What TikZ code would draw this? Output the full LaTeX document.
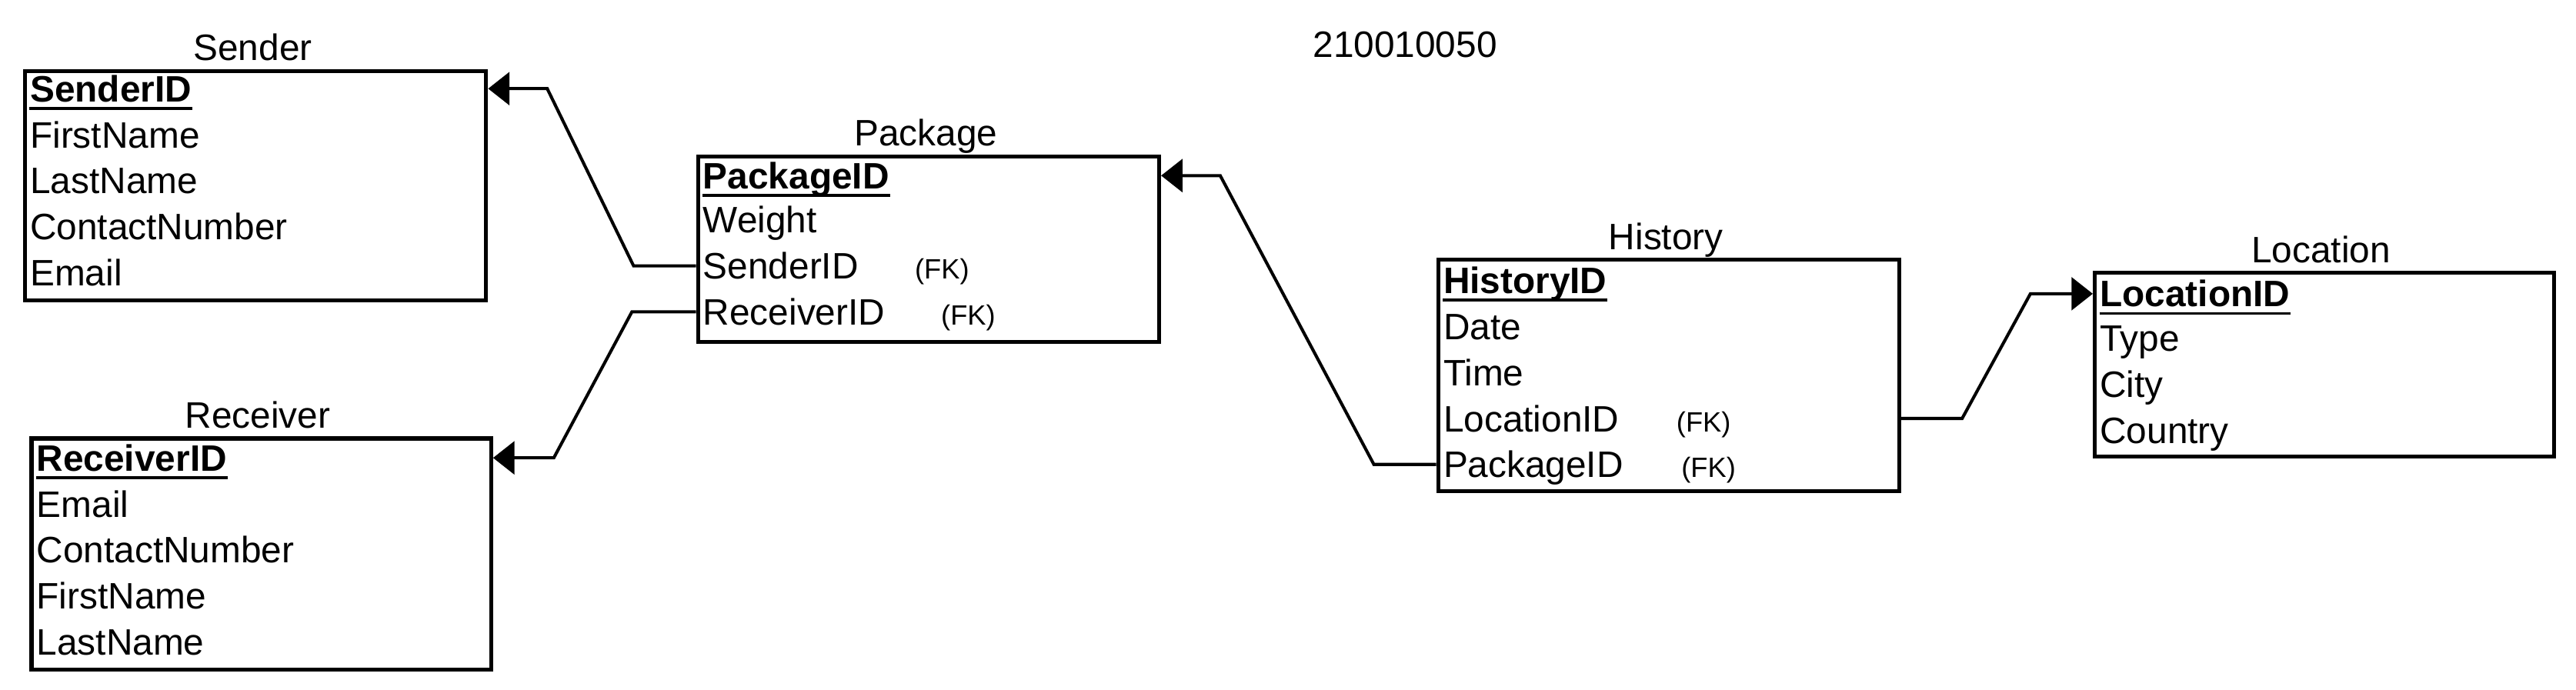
\documentclass[tikz,border=0pt]{standalone}
\usepackage{fontspec}
\setmainfont{Liberation Sans}
\usetikzlibrary{arrows.meta,calc}
\begin{document}
\begin{tikzpicture}[x=0.5pt,y=-0.5pt,
  every node/.style={inner sep=0pt},
  fnt/.style={font=\fontsize{11.2}{13}\selectfont},
  entbox/.style={draw, line width=1.2pt, anchor=north west, inner sep=0pt},
  label/.style={fnt, anchor=base},
  field/.style={fnt, anchor=west, text height=8pt, text depth=0pt},
  pkfield/.style={field, font=\fontsize{11.2}{13}\selectfont\bfseries},
  fk/.style={field, font=\fontsize{8.5}{10}\selectfont},
  pkline/.style={line width=0.9pt},
  conn/.style={line width=0.95pt},
  arr/.style={conn, -{Triangle[length=6.5pt,width=10pt]}}]
\useasboundingbox (0,0) rectangle (1569.4,420);

% title
\node[label] (title) at (856,35) {210010050};

% Sender
\node[entbox, minimum width=140.5pt, minimum height=70pt] (sender) at (14,42) {};
\node[label] (senderlbl) at (154,37) {Sender};
\node[pkfield] (s1) at (18,54) {SenderID};
\node[field] (s2) at (18,82) {FirstName};
\node[field] (s3) at (18,110) {LastName};
\node[field] (s4) at (18,138) {ContactNumber};
\node[field] (s5) at (18,166) {Email};
\draw[pkline] ([yshift=-2pt]s1.base west) -- ([yshift=-2pt]s1.base east);

% Package
\node[entbox, minimum width=140.5pt, minimum height=56.5pt] (package) at (424,94) {};
\node[label] (packagelbl) at (564,89) {Package};
\node[pkfield] (p1) at (428,107) {PackageID};
\node[field] (p2) at (428,134) {Weight};
\node[field] (p3) at (428,162) {SenderID};
\node[fk] (p3fk) at (557,162) {(FK)};
\node[field] (p4) at (428,190) {ReceiverID};
\node[fk] (p4fk) at (573,190) {(FK)};
\draw[pkline] ([yshift=-2pt]p1.base west) -- ([yshift=-2pt]p1.base east);

% Receiver
\node[entbox, minimum width=140pt, minimum height=70.5pt] (receiver) at (18,266) {};
\node[label] (receiverlbl) at (157,261) {Receiver};
\node[pkfield] (r1) at (22,279) {ReceiverID};
\node[field] (r2) at (22,307) {Email};
\node[field] (r3) at (22,335) {ContactNumber};
\node[field] (r4) at (22,363) {FirstName};
\node[field] (r5) at (22,391) {LastName};
\draw[pkline] ([yshift=-2pt]r1.base west) -- ([yshift=-2pt]r1.base east);

% History
\node[entbox, minimum width=140.5pt, minimum height=70.5pt] (history) at (875,157) {};
\node[label] (historylbl) at (1015,152) {History};
\node[pkfield] (h1) at (879,171) {HistoryID};
\node[field] (h2) at (879,199) {Date};
\node[field] (h3) at (879,227) {Time};
\node[field] (h4) at (879,255) {LocationID};
\node[fk] (h4fk) at (1021,255) {(FK)};
\node[field] (h5) at (879,283) {PackageID};
\node[fk] (h5fk) at (1024,283) {(FK)};
\draw[pkline] ([yshift=-2pt]h1.base west) -- ([yshift=-2pt]h1.base east);

% Location
\node[entbox, minimum width=140pt, minimum height=56pt] (location) at (1275,165) {};
\node[label] (locationlbl) at (1414,160) {Location};
\node[pkfield] (l1) at (1279,179) {LocationID};
\node[field] (l2) at (1279,206) {Type};
\node[field] (l3) at (1279,234) {City};
\node[field] (l4) at (1279,262) {Country};
\draw[pkline] ([yshift=-2pt]l1.base west) -- ([yshift=-2pt]l1.base east);

% connectors
\draw[arr] (package.west |- p3) -- ++(-38,0) -- ($(sender.east |- s1)+(36,0)$) -- (sender.east |- s1);
\draw[arr] (package.west |- p4) -- ++(-39,0) -- ($(receiver.east |- r1)+(37,0)$) -- (receiver.east |- r1);
\draw[arr] (history.west |- h5) -- ++(-38,0) -- ($(package.east |- p1)+(36,0)$) -- (package.east |- p1);
\draw[arr] (history.east |- h4) -- ++(37,0) -- ($(location.west |- l1)+(-38,0)$) -- (location.west |- l1);
\end{tikzpicture}
\end{document}
